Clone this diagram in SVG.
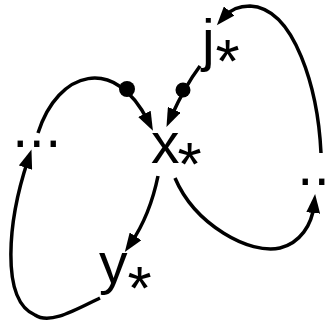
<svg xmlns="http://www.w3.org/2000/svg" width="334" height="325" viewBox="0 0 334 325">
<style>
.t{font-family:"Liberation Sans",Arial,sans-serif;font-size:57px;fill:#000}
.s{font-family:"Liberation Sans",Arial,sans-serif;font-size:62px;fill:#000}
.d{font-family:"DejaVu Sans",sans-serif;font-size:52px;fill:#000}
.e{fill:none;stroke:#000;stroke-width:3.5;marker-end:url(#ah)}
</style>
<defs>
<marker id="ah" markerUnits="userSpaceOnUse" markerWidth="20" markerHeight="14" refX="8" refY="7" orient="auto">
<path d="M0,0 L19,7 L0,14 z" fill="#000"/>
</marker>
</defs>
<rect width="334" height="325" fill="#fff"/>
<g id="connectors">
<path class="e" d="M38,133 C58,70 115,55 148,121"/>
<circle cx="127" cy="89" r="8"/>
<path class="e" d="M200,66 Q185,86 171,117"/>
<circle cx="183" cy="90" r="7.5"/>
<path class="e" d="M158,176 Q150,215 131,243"/>
<path class="e" d="M175,178 C195,225 250,255 280,248 C300,243 312,225 314,205"/>
<path class="e" d="M321,153 C318,90 295,8 250,6 C238,6 230,10 224,17"/>
<path class="e" d="M100,298 C75,310 50,325 35,315 C0,300 8,220 28,160"/>
</g>
<g id="x"><text class="t" x="151" y="163">x</text><text class="s" x="177.5" y="185">*</text></g>
<g id="j"><text class="t" x="202" y="60">j</text><text class="s" x="215.5" y="82">*</text></g>
<g id="y"><text class="t" x="99" y="283">y</text><text class="s" x="127.5" y="309">*</text></g>
<g id="dotsL"><text class="d" x="12" y="147">...</text></g>
<g id="dotsR"><text class="d" x="297" y="185">...</text></g>
</svg>
